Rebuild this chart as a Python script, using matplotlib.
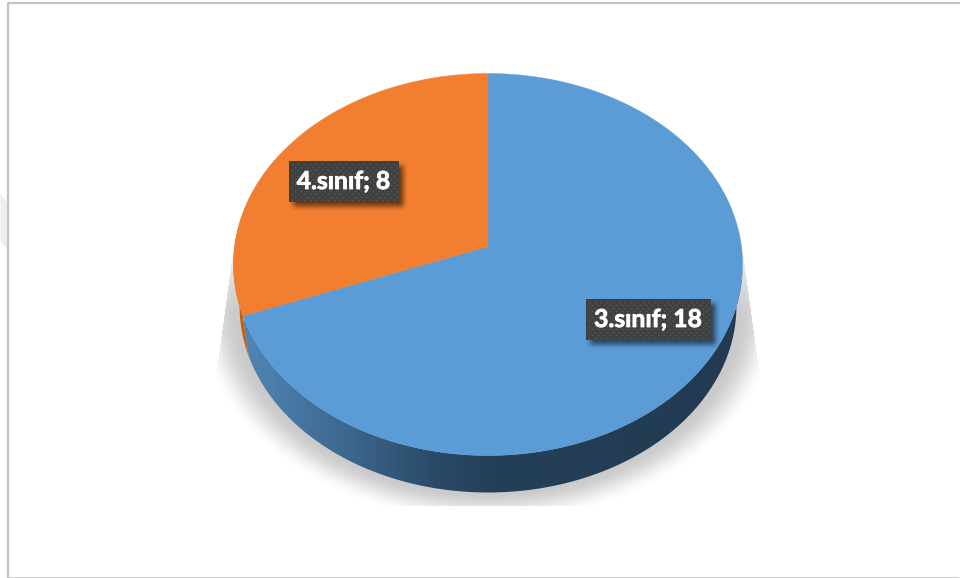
import numpy as np
import matplotlib
matplotlib.use("Agg")
import matplotlib.pyplot as plt
import matplotlib.patheffects as pe
from matplotlib.patches import Polygon, Rectangle
from matplotlib.colors import LinearSegmentedColormap

categories = ["3.sınıf", "4.sınıf"]
values = [18, 8]
colors = ["#5B9BD6", "#F27F30"]

W, H = 960, 578
CX, CY = 487.5, 246
A, B, K = 253.4, 189.3, 0.0943


def project(t, scale=1.0, shift=0.0):
    # t is clockwise from 12 o'clock, perspective view of the pie disc
    u, v = np.sin(t), np.cos(t)
    w = 1 + K * v
    return np.column_stack([CX + scale * A * u / w, CY - scale * B * v / w + shift])


def smooth(x):
    x = np.clip(x, 0, 1)
    return x * x * (3 - 2 * x)


def box_shadow(ax, x0, y0, x1, y1, off=5, blur=5):
    xx, yy = np.meshgrid(np.arange(x0 - 5, x1 + 20), np.arange(y0 - 5, y1 + 20))
    a = smooth((xx - x0 - off + blur) / (2 * blur)) * smooth((x1 + off + blur - xx) / (2 * blur))
    a = a * smooth((yy - y0 - off + blur) / (2 * blur)) * smooth((y1 + off + blur - yy) / (2 * blur))
    img = np.zeros(a.shape + (4,))
    img[..., 3] = a * 0.55
    ax.imshow(img, extent=(x0 - 5.5, x1 + 19.5, y1 + 19.5, y0 - 5.5), zorder=6, aspect="auto")


fig = plt.figure(figsize=(W / 100, H / 100), dpi=100)
ax = fig.add_axes([0, 0, 1, 1])

# frame and the faint mark at the left edge
ax.add_patch(Polygon([(0, 193), (7, 203), (7, 250), (0, 240)], fc="#eeeeee", ec="none"))
ax.plot([7.5, 7.5, 958.5], [578, 2.5, 2.5], color="#c4c4c4", lw=1.6)
ax.plot([7.5, 958.5], [577, 577], color="#c4c4c4", lw=1.2)

# soft shadow under the disc
xx, yy = np.meshgrid(np.arange(W), np.arange(H))
d = np.sqrt(((xx - CX) / 264.0) ** 2 + ((yy - 305) / 196.0) ** 2)
shadow = 1 - smooth((d - 0.95) / 0.16)
inside = (yy < 506) & (np.abs(xx - CX) < 250 + (yy - 215) * 21 / 155.0) & (yy > 205)
shadow = shadow * inside * smooth((yy - 205) / 120.0)
img = np.ones((H, W, 4))
img[..., :3] = 0.6
img[..., 3] = shadow * 0.52
ax.imshow(img, extent=(-0.5, W - 0.5, H - 0.5, -0.5), zorder=1, aspect="auto")

# slice angles from the values, first slice starts at 12 o'clock going clockwise
edges = np.concatenate([[0], np.cumsum(values)]) / np.sum(values) * 2 * np.pi
split = edges[1]
SCALE, DROP = 0.976, 42.0

# side walls
t = np.linspace(split, np.radians(300), 60)
side = np.vstack([project(t), project(t[::-1], SCALE, DROP)])
ax.add_patch(Polygon(side, fc="#C4600F", ec="none", zorder=2))

t = np.linspace(np.radians(60), split, 200)
side = np.vstack([project(t), project(t[::-1], SCALE, DROP)])
clip = Polygon(side, fc="none", ec="none", transform=ax.transData)
ax.add_patch(clip)
cmap = LinearSegmentedColormap.from_list(
    "wall",
    [(0, "#4F86B5"), (0.2, "#3D6890"), (0.38, "#2A4A68"), (0.5, "#243F58"), (1, "#223B52")],
)
grad = ax.imshow(np.linspace(0, 1, 256)[None, :], cmap=cmap, extent=(243, 742, 520, 280),
                 zorder=2, aspect="auto")
grad.set_clip_path(clip)

# top face
for i, col in enumerate(colors):
    t = np.linspace(edges[i], edges[i + 1], 300)
    pts = np.vstack([[CX, CY], project(t)])
    ax.add_patch(Polygon(pts, fc=col, ec=col, lw=0.3, zorder=3))

# data labels
boxes = [(585, 298, 710, 339), (288, 160, 398, 201)]
for name, val, (x0, y0, x1, y1) in zip(categories, values, boxes):
    box_shadow(ax, x0, y0, x1, y1)
    ax.add_patch(Rectangle((x0, y0), x1 - x0, y1 - y0, fc="#404040", ec="none", zorder=7))
    gx, gy = [], []
    for row, yd in enumerate(np.arange(y0 + 3, y1, 3)):
        for xd in np.arange(x0 + 3 + (row % 2) * 3, x1, 6):
            gx.append(xd)
            gy.append(yd)
    ax.scatter(gx, gy, s=1.6, c="#565656", linewidths=0, zorder=8)
    txt = ax.text((x0 + x1) / 2, (y0 + y1) / 2 + 0.5, f"{name}; {val}", color="white",
                  family="Lato", weight="bold", fontsize=17.8, ha="center", va="center", zorder=9)
    txt.set_path_effects([pe.withStroke(linewidth=0.6, foreground="white")])

ax.set_xlim(-0.5, W - 0.5)
ax.set_ylim(H - 0.5, -0.5)
ax.axis("off")
fig.savefig("out.png", dpi=100)
